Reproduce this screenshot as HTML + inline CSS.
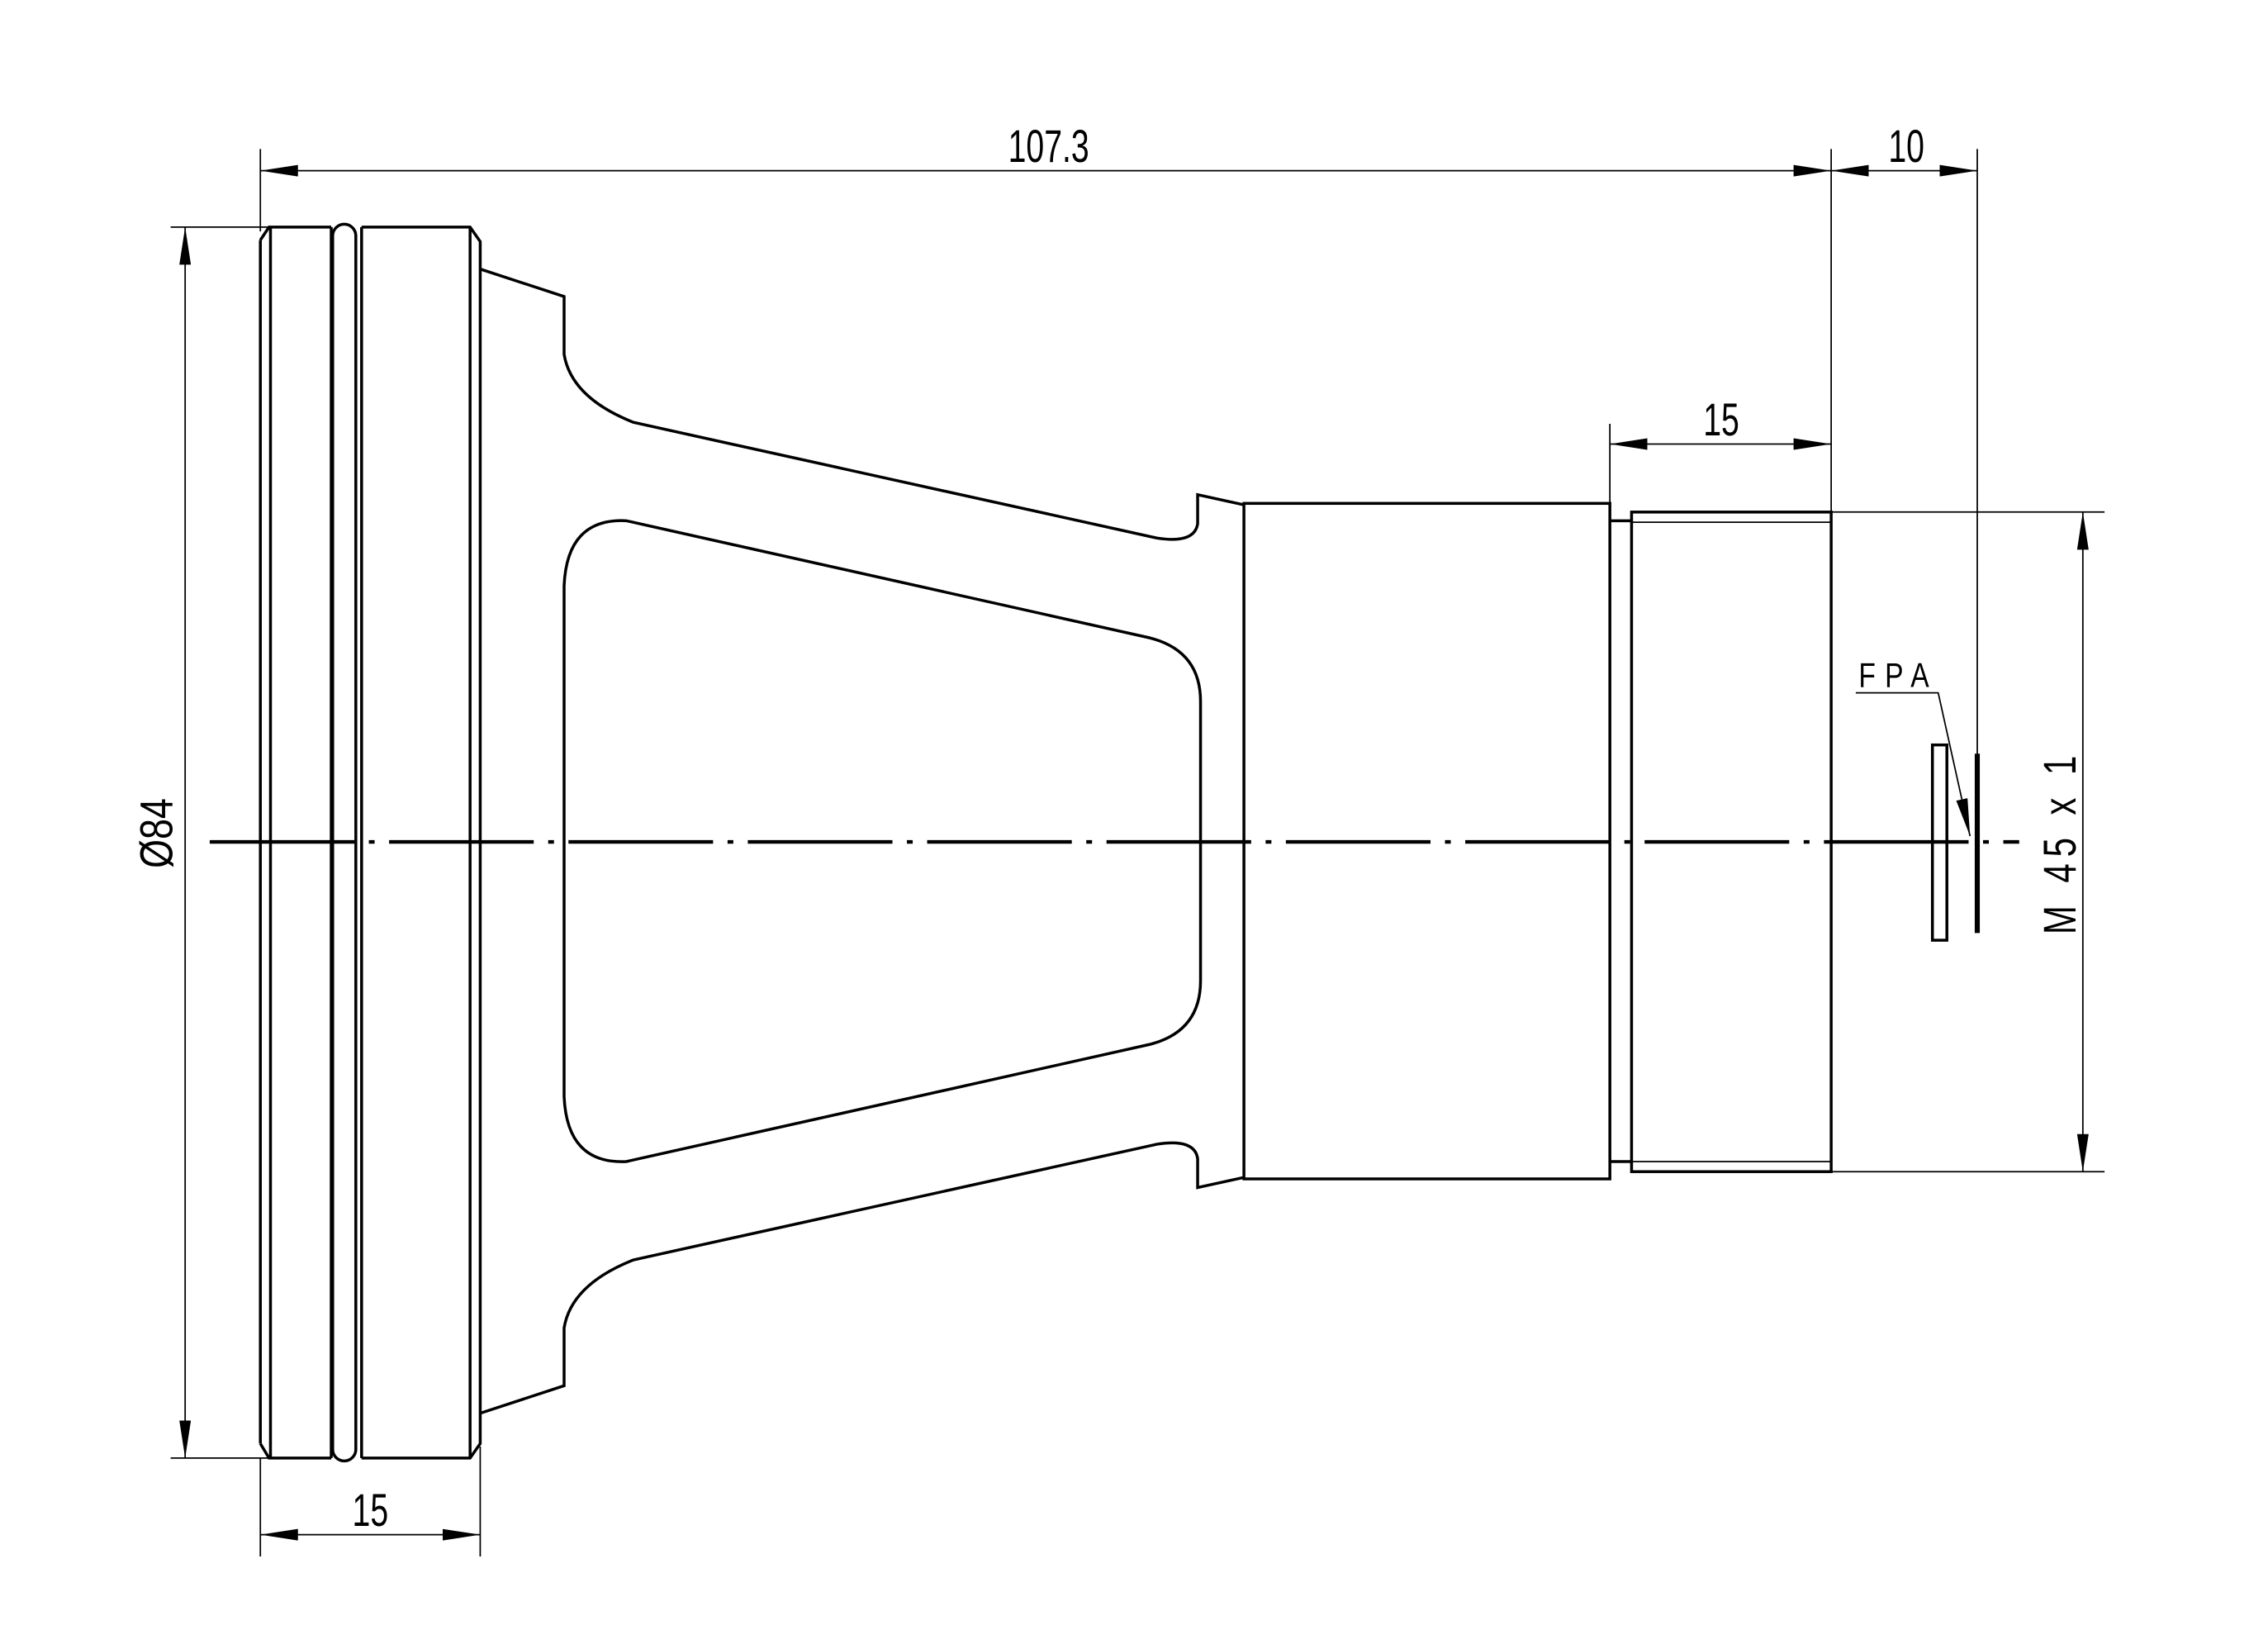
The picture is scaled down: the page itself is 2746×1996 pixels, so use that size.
<!DOCTYPE html>
<html><head><meta charset="utf-8"><style>
html,body{margin:0;padding:0;background:#fff;}
svg{display:block;}
text{font-family:"Liberation Sans",sans-serif;fill:#000;}
</style></head><body>
<svg width="2746" height="1996" viewBox="0 0 1568 1140" preserveAspectRatio="none" xmlns="http://www.w3.org/2000/svg">
<defs>
<marker id="b" viewBox="0 0 26 8" refX="26" refY="4" markerWidth="26" markerHeight="8" markerUnits="userSpaceOnUse" orient="auto-start-reverse"><path d="M0,0 L26,4 L0,8z" fill="#000"/></marker>
</defs>
<g stroke="#000" fill="none" stroke-width="1">
<line x1="180" y1="103" x2="180" y2="160"/>
<line x1="1266" y1="103" x2="1266" y2="355"/>
<line x1="1367" y1="103" x2="1367" y2="522"/>
<line x1="118" y1="157" x2="186" y2="157"/>
<line x1="118" y1="1008" x2="186" y2="1008"/>
<line x1="180" y1="1008" x2="180" y2="1076"/>
<line x1="332" y1="1000" x2="332" y2="1076"/>
<line x1="1113" y1="293" x2="1113" y2="348"/>
<line x1="1266" y1="354" x2="1455" y2="354"/>
<line x1="1266" y1="810" x2="1455" y2="810"/>
<line x1="180" y1="118" x2="1266" y2="118" marker-start="url(#b)" marker-end="url(#b)"/>
<line x1="1266" y1="118" x2="1367" y2="118" marker-start="url(#b)" marker-end="url(#b)"/>
<line x1="1113" y1="307" x2="1266" y2="307" marker-start="url(#b)" marker-end="url(#b)"/>
<line x1="128" y1="157" x2="128" y2="1008" marker-start="url(#b)" marker-end="url(#b)"/>
<line x1="180" y1="1061" x2="332" y2="1061" marker-start="url(#b)" marker-end="url(#b)"/>
<line x1="1440" y1="354" x2="1440" y2="810" marker-start="url(#b)" marker-end="url(#b)"/>
<polyline points="1283,479 1340,479 1362,578" marker-end="url(#b)"/>
</g>
<g stroke="#000" fill="none" stroke-width="2">
<path d="M180,166 L186,157 L229,157 M250,157 L325,157 L332,167 L332,998 L325,1008 L250,1008 M229,1008 L186,1008 L180,998"/>
<line x1="180" y1="166" x2="180" y2="998"/>
<line x1="187" y1="157" x2="187" y2="1008"/>
<line x1="325" y1="157" x2="325" y2="1008"/>
<path d="M230,1002 L230,163 A8,8 0 0 1 246,163 L246,1002 A8,8 0 0 1 230,1002 Z"/>
<line x1="250" y1="157" x2="250" y2="1008"/>
<line x1="229" y1="157" x2="229" y2="1008"/>
<path d="M332,186 L390,205 L390,245 Q395,275 438,292 L800,372 Q826,376 828,362 L828,342 L860,349"/>
<path d="M332,977 L390,958 L390,918 Q395,888 438,871 L800,791 Q826,787 828,801 L828,821 L860,814"/>
<path d="M390,405 Q392,358 433,360 L795,441 Q830,450 830,485 L830,678 Q830,713 795,722 L433,803 Q392,805 390,758 Z"/>
<rect x="860" y="348" width="253" height="467"/>
<line x1="1113" y1="360" x2="1128" y2="360"/>
<line x1="1113" y1="803" x2="1128" y2="803"/>
<rect x="1128" y="354" width="138" height="456"/>
<rect x="1336" y="515" width="10" height="135"/>
</g>
<g stroke="#000" fill="none" stroke-width="1">
<line x1="1128" y1="361" x2="1266" y2="361"/>
<line x1="1128" y1="803" x2="1266" y2="803"/>
</g>
<line x1="1367" y1="521" x2="1367" y2="645" stroke="#000" stroke-width="3.5"/>
<line x1="145" y1="582" x2="1396" y2="582" stroke="#000" stroke-width="2.5" stroke-dasharray="100 10 4 10"/>
<g font-size="32">
<text x="725" y="112" text-anchor="middle" transform="translate(725 0) scale(0.7 1) translate(-725 0)">107.3</text>
<text x="1318" y="112" text-anchor="middle" transform="translate(1318 0) scale(0.7 1) translate(-1318 0)">10</text>
<text x="1190" y="301" text-anchor="middle" transform="translate(1190 0) scale(0.7 1) translate(-1190 0)">15</text>
<text x="256" y="1055" text-anchor="middle" transform="translate(256 0) scale(0.7 1) translate(-256 0)">15</text>
<text transform="translate(119 576) rotate(-90) scale(0.8 1)" text-anchor="middle">Ø84</text>
<text transform="translate(1435 582) rotate(-90) scale(0.75 1)" text-anchor="middle" letter-spacing="6">M 45 x 1</text>
<text x="1285" y="475" font-size="24" letter-spacing="8" transform="translate(1285 0) scale(0.8 1) translate(-1285 0)">FPA</text>
</g>
</svg>
</body></html>
